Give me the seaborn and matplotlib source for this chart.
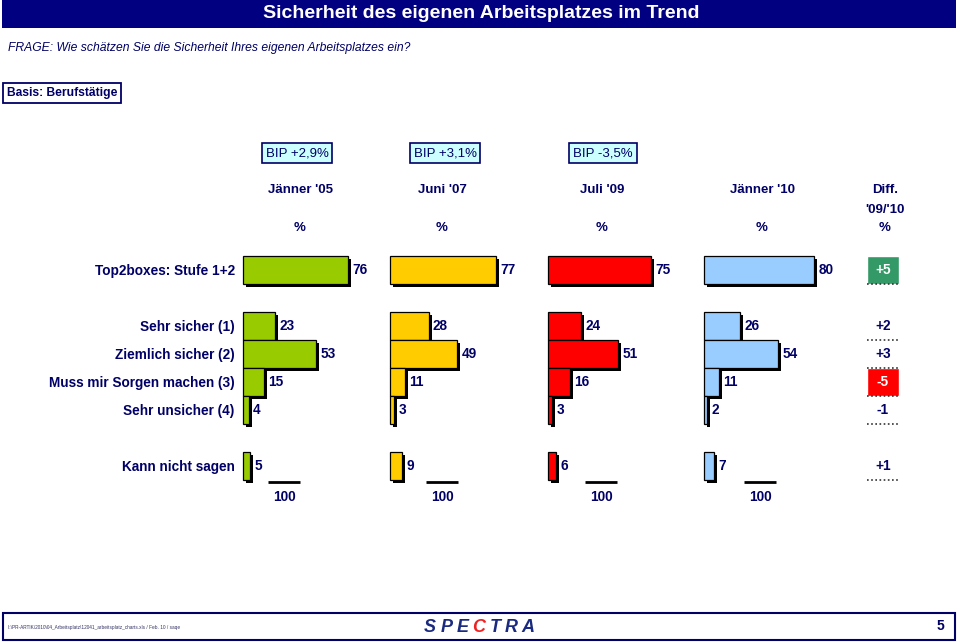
"""Sicherheit des eigenen Arbeitsplatzes im Trend - Spectra chart."""
import numpy as np
import pandas as pd
import seaborn as sns
import matplotlib.pyplot as plt
import matplotlib.patheffects as pe
from matplotlib.patches import Rectangle

# data
WAVES = ["Jänner '05", "Juni '07", "Juli '09", "Jänner '10"]
BIP = ["BIP +2,9%", "BIP +3,1%", "BIP -3,5%"]
ROWS = ["Top2boxes: Stufe 1+2", "Sehr sicher (1)", "Ziemlich sicher (2)",
        "Muss mir Sorgen machen (3)", "Sehr unsicher (4)", "Kann nicht sagen"]
TOP2 = [76, 77, 75, 80]
SEHR_SICHER = [23, 28, 24, 26]
ZIEMLICH_SICHER = [53, 49, 51, 54]
SORGEN = [15, 11, 16, 11]
SEHR_UNSICHER = [4, 3, 3, 2]
KANN_NICHT = [5, 9, 6, 7]
DIFF_HEADER = ["Diff.", "'09/'10"]
FOOTER = "I:\\PR-ARTIK\\2010\\04_Arbeitsplatz\\12041_arbeitsplatz_charts.xls / Feb. 10 / saqe"

# layout / style
W, H = 960, 642
NAVY = "#000066"
BAR_COLORS = ["#99cc00", "#ffcc00", "#ff0000", "#99ccff"]
ROW_SLOTS = [-2, 0, 1, 2, 3, 5]          # vertical slot of each row (28 px each)
PANEL_LEFT = [243, 390, 548, 704]
HEADER_X = [300, 442, 602, 762]
BIP_X = [297, 445, 603]
TOTAL_X = [284, 442, 601, 760]
PX_PER_UNIT = 1.375
FONT = ["Liberation Sans", "DejaVu Sans"]

sns.set_theme(style="white")
plt.rcParams["font.family"] = FONT
plt.rcParams["text.color"] = NAVY

fig = plt.figure(figsize=(W / 100, H / 100), dpi=100)
bg = fig.add_axes([0, 0, 1, 1])
bg.set_xlim(0, W)
bg.set_ylim(H, 0)
bg.axis("off")


def px_axes(left, top, width, height):
    return fig.add_axes([left / W, 1 - (top + height) / H, width / W, height / H])


# title bar
bg.add_patch(Rectangle((2, 0), 954, 28, facecolor="#000080", edgecolor="none"))
bg.text(481, 14, "Sicherheit des eigenen Arbeitsplatzes im Trend", color="white",
        fontsize=14, fontweight="bold", ha="center", va="center")
bg.text(8, 48, "FRAGE: Wie schätzen Sie die Sicherheit Ihres eigenen Arbeitsplatzes ein?",
        fontsize=8.7, style="italic", ha="left", va="center")
bg.text(7, 93, "Basis: Berufstätige", fontsize=8.7, fontweight="bold", ha="left", va="center",
        bbox=dict(boxstyle="square,pad=0.32", facecolor="white", edgecolor=NAVY, linewidth=1.3))

for x, label in zip(BIP_X, BIP):
    bg.text(x, 153, label, fontsize=9.5, ha="center", va="center",
            bbox=dict(boxstyle="square,pad=0.3", facecolor="#ccffff", edgecolor=NAVY, linewidth=1.2))

for x, wave in zip(HEADER_X, WAVES):
    bg.text(x, 190, wave, fontsize=9.5, fontweight="bold", ha="center", va="center")
    bg.text(x, 228, "%", fontsize=9.5, fontweight="bold", ha="center", va="center")
bg.text(885, 190, DIFF_HEADER[0], fontsize=9.5, fontweight="bold", ha="center", va="center")
bg.text(885, 210, DIFF_HEADER[1], fontsize=9.5, fontweight="bold", ha="center", va="center")
bg.text(885, 228, "%", fontsize=9.5, fontweight="bold", ha="center", va="center")

values = np.array([TOP2, SEHR_SICHER, ZIEMLICH_SICHER, SORGEN, SEHR_UNSICHER, KANN_NICHT])
shadow = [pe.SimplePatchShadow(offset=(2.2, -2.2), shadow_rgbFace="black", alpha=1.0), pe.Normal()]

top_px = 326 - 28 * 2.5
height_px = 28 * 8
for i, (left, color) in enumerate(zip(PANEL_LEFT, BAR_COLORS)):
    ax = px_axes(left, top_px, 150, height_px)
    df = pd.DataFrame({"slot": ROW_SLOTS, "value": values[:, i]})
    sns.barplot(data=df, x="value", y="slot", orient="h", native_scale=True, width=1,
                color=color, edgecolor="black", linewidth=0.9, saturation=1, ax=ax)
    for patch in ax.patches:
        patch.set_path_effects(shadow)
        patch.set_clip_on(False)
    for slot, v in zip(ROW_SLOTS, values[:, i]):
        ax.text(v + 3.2, slot, str(v), fontsize=9.8, fontweight="bold", ha="left", va="center")
    ax.set_xlim(0, 150 / PX_PER_UNIT)
    ax.set_ylim(5.5, -2.5)
    ax.set_xlabel("")
    ax.set_ylabel("")
    ax.patch.set_alpha(0)
    sns.despine(ax=ax, left=True, bottom=True)
    ax.set_xticks([])
    if i == 0:
        ax.set_yticks(ROW_SLOTS)
        ax.set_yticklabels(ROWS, fontsize=9.8, fontweight="bold", color=NAVY)
        ax.tick_params(axis="y", length=0, pad=6)
    else:
        ax.set_yticks([])
    total = values[1:, i].sum()
    bg.hlines(482, TOTAL_X[i] - 16, TOTAL_X[i] + 16, color="black", linewidth=2)
    bg.text(TOTAL_X[i], 497, str(total), fontsize=9.8, fontweight="bold", ha="center", va="center")

# difference column '09/'10
diffs = values[:, 3] - values[:, 2]
dax = px_axes(867, top_px, 32, height_px)
for slot, d in zip(ROW_SLOTS, diffs):
    if abs(d) >= 5:
        dax.barh(slot, 1, height=1, left=0, color="#339966" if d > 0 else "#ff0000")
        tcolor = "white"
    else:
        tcolor = NAVY
    dax.text(0.5, slot, f"{d:+d}", fontsize=9.8, fontweight="bold", ha="center", va="center", color=tcolor)
dax.hlines([s + 0.5 for s in ROW_SLOTS], 0, 1, color="#333333", linewidth=1.2,
           linestyles=(0, (1, 1.5)), clip_on=False)
dax.set_xlim(0, 1)
dax.set_ylim(5.5, -2.5)
dax.axis("off")

# footer
bg.add_patch(Rectangle((3, 613), 952, 27, facecolor="white", edgecolor=NAVY, linewidth=1.5))
bg.text(8, 627, FOOTER, fontsize=3.4, ha="left", va="center", color="#333366")
for letter, x in zip("SPECTRA", np.linspace(430, 528, 7)):
    bg.text(x, 627, letter, fontsize=13, fontweight="bold", style="italic", ha="center", va="center",
            color="#ee2222" if letter == "C" else "#1a2a80")
bg.text(940, 626, "5", fontsize=10, fontweight="bold", ha="center", va="center")

fig.savefig("out.png", dpi=100)
